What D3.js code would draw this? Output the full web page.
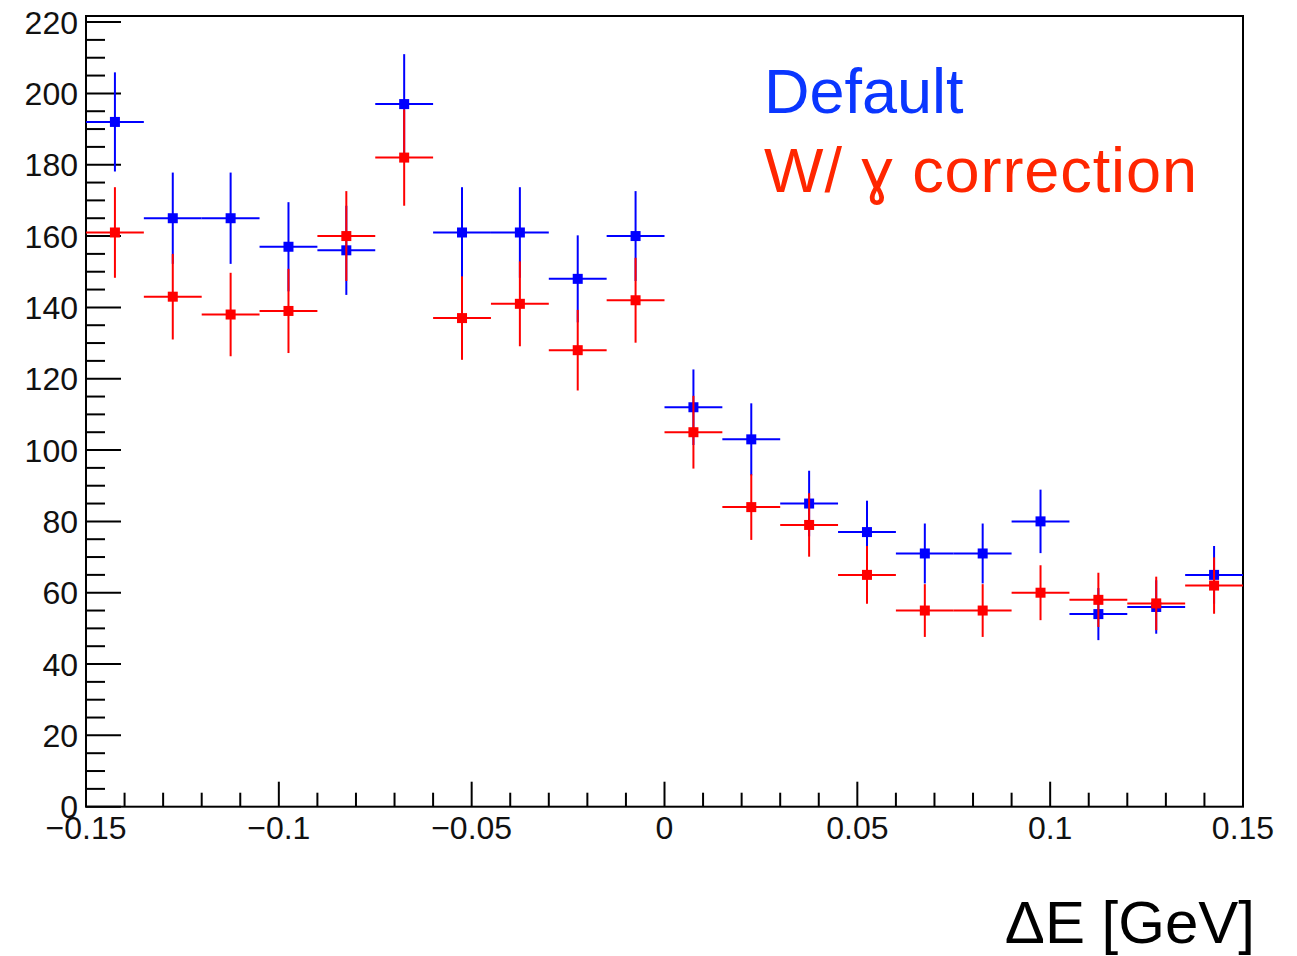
<!DOCTYPE html>
<html>
<head>
<meta charset="utf-8">
<script src="https://cdn.jsdelivr.net/npm/d3@7"></script>
<style>
  html, body { margin: 0; padding: 0; background: #fff; }
  svg { display: block; }
  text { font-family: "Liberation Sans", Arial, Helvetica, sans-serif; }
</style>
</head>
<body>
<svg id="chart" width="1297" height="956"></svg>
<script>
// ---- data ----
const binLow = -0.15;
const binWidth = 0.015;
const binCenters = [-0.1425, -0.1275, -0.1125, -0.0975, -0.0825, -0.0675, -0.0525, -0.0375, -0.0225, -0.0075,
                    0.0075, 0.0225, 0.0375, 0.0525, 0.0675, 0.0825, 0.0975, 0.1125, 0.1275, 0.1425];
const defaultValues = [192, 165, 165, 157, 156, 197, 161, 161, 148, 160, 112, 103, 85, 77, 71, 71, 80, 54, 56, 65];
const defaultErrors = [13.9, 12.8, 12.8, 12.5, 12.5, 14.0, 12.7, 12.7, 12.2, 12.6, 10.6, 10.1, 9.2, 8.8, 8.4, 8.4, 8.9, 7.3, 7.5, 8.1];
const gammaValues = [161, 143, 138, 139, 160, 182, 137, 141, 128, 142, 105, 84, 79, 65, 55, 55, 60, 58, 57, 62];
const gammaErrors = [12.7, 12.0, 11.7, 11.8, 12.6, 13.5, 11.7, 11.9, 11.3, 11.9, 10.2, 9.2, 8.9, 8.1, 7.4, 7.4, 7.7, 7.6, 7.5, 7.9];
const xMajorTicks = [-0.15, -0.1, -0.05, 0, 0.05, 0.1, 0.15];
const xTickLabels = ["\u22120.15", "\u22120.1", "\u22120.05", "0", "0.05", "0.1", "0.15"];
const yMajorTicks = [0, 20, 40, 60, 80, 100, 120, 140, 160, 180, 200, 220];
const yTickLabels = ["0", "20", "40", "60", "80", "100", "120", "140", "160", "180", "200", "220"];
const legendLabels = ["Default", "W/ \u0263 correction"];
const xTitle = "\u0394E [GeV]";

// ---- layout ----
const L = 86, R = 1243, T = 16, B = 806.7;
const svg = d3.select("#chart");
const x = d3.scaleLinear().domain([-0.15, 0.15]).range([L, R]);
const y = d3.scaleLinear().domain([0, 221.7]).range([B, T]);

const xMinor = d3.range(-0.15, 0.1501, 0.01).map(v => +v.toFixed(3)).filter(v => !xMajorTicks.some(m => Math.abs(m - v) < 1e-6));
const yMinor = d3.range(0, 221, 5).filter(v => v % 20 !== 0);

// frame
svg.append("rect").attr("x", L).attr("y", T).attr("width", R - L).attr("height", B - T)
  .attr("fill", "none").attr("stroke", "#000").attr("stroke-width", 2);

// y axis ticks (inward)
const gy = svg.append("g").attr("transform", `translate(${L},0)`);
gy.selectAll(".ymaj").data(yMajorTicks).join("line")
  .attr("x1", 0).attr("x2", 35).attr("y1", d => y(d)).attr("y2", d => y(d))
  .attr("stroke", "#000").attr("stroke-width", 2);
gy.selectAll(".ymin").data(yMinor).join("line")
  .attr("x1", 0).attr("x2", 19).attr("y1", d => y(d)).attr("y2", d => y(d))
  .attr("stroke", "#000").attr("stroke-width", 2);
gy.selectAll(".ylab").data(yMajorTicks).join("text")
  .attr("x", -8).attr("y", d => y(d)).attr("dy", "0.36em")
  .attr("text-anchor", "end").attr("font-size", 32).attr("fill", "#111")
  .text((d, i) => yTickLabels[i]);

// x axis ticks (inward)
const gx = svg.append("g");
gx.selectAll(".xmaj").data(xMajorTicks).join("line")
  .attr("x1", d => x(d)).attr("x2", d => x(d)).attr("y1", B).attr("y2", B - 25)
  .attr("stroke", "#000").attr("stroke-width", 2);
gx.selectAll(".xmin").data(xMinor).join("line")
  .attr("x1", d => x(d)).attr("x2", d => x(d)).attr("y1", B).attr("y2", B - 14)
  .attr("stroke", "#000").attr("stroke-width", 2);
gx.selectAll(".xlab").data(xMajorTicks).join("text")
  .attr("x", d => x(d)).attr("y", 839)
  .attr("text-anchor", "middle").attr("font-size", 32).attr("fill", "#111")
  .text((d, i) => xTickLabels[i]);

// series
function drawSeries(vals, errs, color) {
  const g = svg.append("g");
  const data = binCenters.map((c, i) => ({ c, v: vals[i], e: errs[i] }));
  g.selectAll(".h").data(data).join("line")
    .attr("x1", d => x(d.c - binWidth / 2)).attr("x2", d => x(d.c + binWidth / 2))
    .attr("y1", d => y(d.v)).attr("y2", d => y(d.v))
    .attr("stroke", color).attr("stroke-width", 2);
  g.selectAll(".v").data(data).join("line")
    .attr("x1", d => x(d.c)).attr("x2", d => x(d.c))
    .attr("y1", d => y(d.v - d.e)).attr("y2", d => y(d.v + d.e))
    .attr("stroke", color).attr("stroke-width", 2);
  g.selectAll(".m").data(data).join("rect")
    .attr("x", d => x(d.c) - 5).attr("y", d => y(d.v) - 5)
    .attr("width", 10).attr("height", 10).attr("fill", color);
}
drawSeries(defaultValues, defaultErrors, "#0000ff");
drawSeries(gammaValues, gammaErrors, "#ff0000");

// legend text
svg.append("text").attr("x", 764).attr("y", 113).attr("font-size", 63)
  .attr("fill", "#0a36ff").text(legendLabels[0]);
svg.append("text").attr("x", 764).attr("y", 192).attr("font-size", 63)
  .attr("fill", "#ff2600").attr("textLength", 433).attr("lengthAdjust", "spacing")
  .text(legendLabels[1]);

// axis title
svg.append("text").attr("x", 1255).attr("y", 943).attr("font-size", 60)
  .attr("text-anchor", "end").attr("fill", "#000").text(xTitle);
</script>
</body>
</html>
